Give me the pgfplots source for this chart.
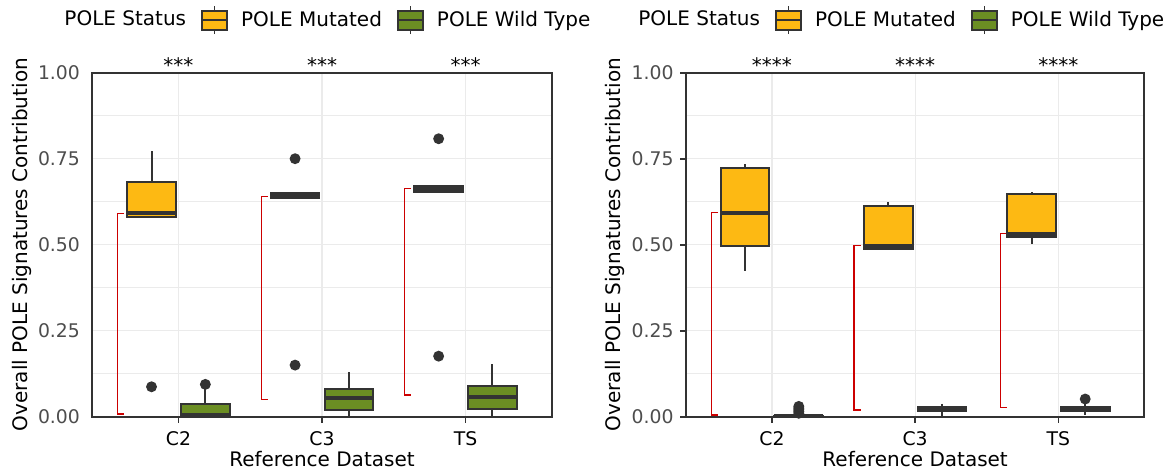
\documentclass[border=0pt]{standalone}
\usepackage{pgfplots}
\pgfplotsset{compat=1.18}
\usepgfplotslibrary{statistics}
\usepackage{fontspec}
\setmainfont{DejaVu Sans}
\definecolor{mutyellow}{RGB}{253,185,19}
\definecolor{wtgreen}{RGB}{107,142,35}
\definecolor{boxedge}{RGB}{51,51,51}
\definecolor{gridgray}{RGB}{235,235,235}
\definecolor{tickgray}{RGB}{77,77,77}
\definecolor{bracketred}{RGB}{204,0,0}
\newcommand{\bx}[8]{%
\addplot[boxplot prepared={draw position=#1, lower whisker=#2, lower quartile=#3, median=#4, upper quartile=#5, upper whisker=#6, box extend=0.34, whisker extend=0, draw direction=y},
  draw=boxedge, fill=#7, line width=1pt, mark=*, mark size=2.2pt,
  mark options={fill=boxedge, draw=boxedge, solid}, forget plot] coordinates {#8};}
\newcommand{\brk}[3]{%
\addplot[bracketred, line width=0.55pt, forget plot] coordinates {(#1+0.047,#2) (#1,#2) (#1,#3) (#1+0.047,#3)};}
\pgfplotsset{
  myax/.style={
    scale only axis, height=172pt, anchor=south west,
    xmin=0.4, xmax=3.6, ymin=0, ymax=1,
    xtick={1,2,3}, xticklabels={C2,C3,TS},
    ytick={0,0.25,0.5,0.75,1}, yticklabels={0.00,0.25,0.50,0.75,1.00},
    minor ytick={0.125,0.375,0.625,0.875},
    grid=both,
    major grid style={gridgray, line width=0.65pt},
    minor grid style={gridgray, line width=0.4pt},
    axis line style={boxedge, line width=1pt},
    tick align=outside, major tick length=3pt, minor tick length=0pt,
    tick style={boxedge, line width=0.8pt},
    xtick pos=bottom, ytick pos=left,
    xticklabel style={font=\fontsize{9.4}{11}\selectfont, text=black, inner sep=2pt, yshift=-2pt},
    yticklabel style={font=\fontsize{9.4}{11}\selectfont, text=tickgray, inner sep=3pt},
    every axis x label/.style={at={(axis description cs:0.5,-0.123)}, anchor=center, font=\fontsize{10}{12}\selectfont},
    every axis y label/.style={at={(axis description cs:-0.153,0.5)}, rotate=90, anchor=center, font=\fontsize{10}{12}\selectfont},
    xlabel={Reference Dataset},
    ylabel={Overall POLE Signatures Contribution},
    clip=false,
    legend style={anchor=center, draw=none, fill=none, legend columns=-1,
      font=\fontsize{10}{12}\selectfont,
      /tikz/every odd column/.append style={column sep=4.5pt},
      /tikz/every even column/.append style={column sep=5.5pt}},
    legend cell align=left,
    boxplot/every median/.style={line width=2pt},
    boxplot/every whisker/.style={line width=1pt},
  },
  mutleg/.style={legend image code/.code={
    \draw[boxedge, line width=0.8pt] (6.25pt,-7pt) -- (6.25pt,7pt);
    \draw[draw=boxedge, fill=mutyellow, line width=1pt] (0pt,-4.75pt) rectangle (12.5pt,4.75pt);
    \draw[boxedge, line width=1pt] (0pt,0pt) -- (12.5pt,0pt);}},
  wtleg/.style={legend image code/.code={
    \draw[boxedge, line width=0.8pt] (6.25pt,-7pt) -- (6.25pt,7pt);
    \draw[draw=boxedge, fill=wtgreen, line width=1pt] (0pt,-4.75pt) rectangle (12.5pt,4.75pt);
    \draw[boxedge, line width=1pt] (0pt,0pt) -- (12.5pt,0pt);}},
}
\begin{document}
\begin{tikzpicture}
\path[use as bounding box] (0,0) rectangle (586pt,236.5pt);
% ---------- left panel ----------
\begin{axis}[myax, at={(46.15pt,28.15pt)}, width=229.7pt,
  ytick style={draw=none},
  legend style={at={(axis description cs:0.502,1.153)}}]
\addlegendimage{empty legend}\addlegendentry{POLE Status}
\addlegendimage{mutleg}\addlegendentry{POLE Mutated}
\addlegendimage{wtleg}\addlegendentry{POLE Wild Type}
\brk{0.574}{0.592}{0.008}
\brk{1.576}{0.640}{0.0505}
\brk{2.574}{0.663}{0.063}
\bx{0.8125}{0.582}{0.582}{0.591}{0.683}{0.773}{mutyellow}{(0,0.087)}
\bx{1.1875}{0}{0}{0.005}{0.036}{0.08}{wtgreen}{(0,0.094)}
\bx{1.8125}{0.635}{0.635}{0.641}{0.650}{0.650}{mutyellow}{(0,0.75) (0,0.15)}
\bx{2.1875}{0}{0.019}{0.0535}{0.0805}{0.13}{wtgreen}{}
\bx{2.8125}{0.654}{0.654}{0.661}{0.670}{0.670}{mutyellow}{(0,0.808) (0,0.176)}
\bx{3.1875}{0}{0.023}{0.058}{0.089}{0.153}{wtgreen}{}
\node[anchor=base, font=\fontsize{10}{12}\selectfont] at (axis cs:1,1.0) {***};
\node[anchor=base, font=\fontsize{10}{12}\selectfont] at (axis cs:2,1.0) {***};
\node[anchor=base, font=\fontsize{10}{12}\selectfont] at (axis cs:3,1.0) {***};
\end{axis}
% ---------- right panel ----------
\begin{axis}[myax, at={(343pt,28.15pt)}, width=229.15pt,
  every axis y label/.style={at={(axis description cs:-0.155,0.5)}, rotate=90, anchor=center, font=\fontsize{10}{12}\selectfont},
  legend style={at={(axis description cs:0.46,1.153)}}]
\addlegendimage{empty legend}\addlegendentry{POLE Status}
\addlegendimage{mutleg}\addlegendentry{POLE Mutated}
\addlegendimage{wtleg}\addlegendentry{POLE Wild Type}
\brk{0.577}{0.593}{0.005}
\brk{1.573}{0.497}{0.0195}
\brk{2.594}{0.532}{0.027}
\bx{0.8125}{0.4245}{0.497}{0.593}{0.724}{0.734}{mutyellow}{}
\bx{1.1875}{0}{0}{0.001}{0.003}{0.006}{wtgreen}{(0,0.03) (0,0.025) (0,0.02) (0,0.015) (0,0.01)}
\bx{1.8125}{0.487}{0.487}{0.496}{0.6136}{0.623}{mutyellow}{}
\bx{2.1875}{0.003}{0.018}{0.022}{0.028}{0.038}{wtgreen}{}
\bx{2.8125}{0.502}{0.5234}{0.531}{0.6476}{0.6525}{mutyellow}{}
\bx{3.1875}{0.006}{0.018}{0.022}{0.027}{0.038}{wtgreen}{(0,0.0514)}
\node[anchor=base, font=\fontsize{10}{12}\selectfont] at (axis cs:1,1.0) {****};
\node[anchor=base, font=\fontsize{10}{12}\selectfont] at (axis cs:2,1.0) {****};
\node[anchor=base, font=\fontsize{10}{12}\selectfont] at (axis cs:3,1.0) {****};
\end{axis}
\end{tikzpicture}
\end{document}
